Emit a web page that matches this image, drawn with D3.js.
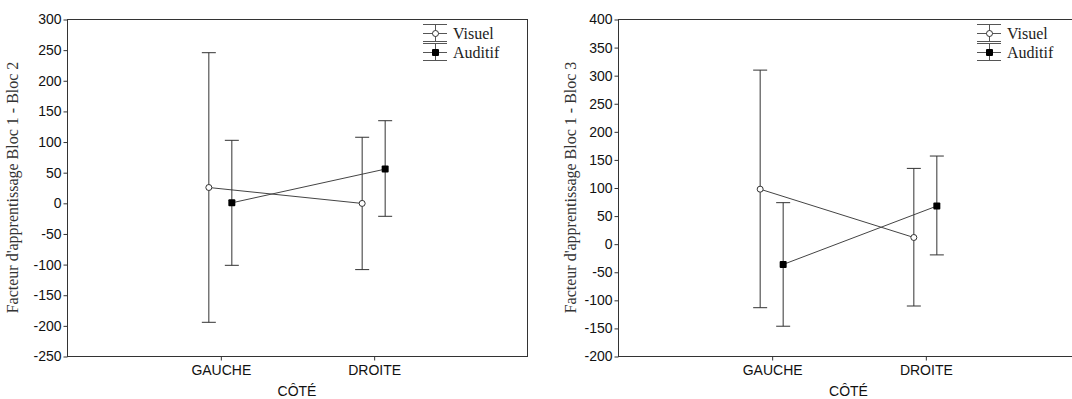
<!DOCTYPE html>
<html>
<head>
<meta charset="utf-8">
<script src="https://cdn.jsdelivr.net/npm/d3@7"></script>
<style>
  body { margin: 0; background: #fff; }
  svg { display: block; }
</style>
</head>
<body>
<svg width="1072" height="399"></svg>
<script>
// categories and series
const categories = ["GAUCHE", "DROITE"];
const seriesNames = ["Visuel", "Auditif"];

// Bloc 1 - Bloc 2
const bloc2Visuel = [25, -1];
const bloc2VisuelLow = [-195, -109];
const bloc2VisuelHigh = [245, 107];
const bloc2Auditif = [0, 55];
const bloc2AuditifLow = [-102, -22];
const bloc2AuditifHigh = [102, 134];
const bloc2Ticks = [-250, -200, -150, -100, -50, 0, 50, 100, 150, 200, 250, 300];

// Bloc 1 - Bloc 3
const bloc3Visuel = [97, 11];
const bloc3VisuelLow = [-114, -111];
const bloc3VisuelHigh = [309, 134];
const bloc3Auditif = [-37, 67];
const bloc3AuditifLow = [-147, -20];
const bloc3AuditifHigh = [73, 156];
const bloc3Ticks = [-200, -150, -100, -50, 0, 50, 100, 150, 200, 250, 300, 350, 400];

const svg = d3.select('svg');

function drawPanel(opts) {
    const g = svg.append('g').attr('transform', `translate(${opts.left},${opts.top})`);
    const w = opts.width, h = opts.height;

    const x = d3.scalePoint().domain(categories).range([0, w]).padding(1);
    const y = d3.scaleLinear().domain(d3.extent(opts.ticks)).range([h, 0]);

    // frame
    g.append('rect')
        .attr('x', 0.5).attr('y', 0.5)
        .attr('width', w).attr('height', h)
        .attr('fill', 'none').attr('stroke', '#333').attr('stroke-width', 1);

    // y axis (plain hyphen for negatives, like the original)
    const yAxis = g.append('g').attr('transform', 'translate(0.5,0.5)')
        .call(d3.axisLeft(y).tickValues(opts.ticks).tickFormat(d => String(d))
            .tickSize(4).tickPadding(2));
    yAxis.select('.domain').remove();
    yAxis.selectAll('line').attr('stroke', '#333');
    yAxis.selectAll('text')
        .attr('font-family', '"Liberation Sans", Arial, sans-serif')
        .attr('font-size', 14).attr('fill', '#111');

    // x axis
    const xAxis = g.append('g').attr('transform', `translate(0.5,${h + 0.5})`)
        .call(d3.axisBottom(x).tickSize(4).tickPadding(0));
    xAxis.select('.domain').remove();
    xAxis.selectAll('line').attr('stroke', '#333');
    xAxis.selectAll('text')
        .attr('font-family', '"Liberation Sans", Arial, sans-serif')
        .attr('font-size', 14).attr('fill', '#111')
        .attr('dy', null).attr('y', 18);

    // axis titles
    g.append('text')
        .attr('x', w / 2).attr('y', h + 40)
        .attr('text-anchor', 'middle')
        .attr('font-family', '"Liberation Sans", Arial, sans-serif')
        .attr('font-size', 14).attr('fill', '#111')
        .text('CÔTÉ');

    g.append('text')
        .attr('transform', `translate(${opts.titleX},${h / 2}) rotate(-90)`)
        .attr('text-anchor', 'middle')
        .attr('font-family', '"Liberation Serif", "Times New Roman", serif')
        .attr('font-size', 16).attr('fill', '#333')
        .text(opts.title);

    // series
    const offsets = [-11.5, 11.5];
    opts.series.forEach((s, si) => {
        const pts = categories.map((c, i) => ({
            x: x(c) + offsets[si], m: s.mean[i], lo: s.low[i], hi: s.high[i]
        }));

        g.append('path')
            .datum(pts)
            .attr('fill', 'none').attr('stroke', '#444').attr('stroke-width', 1)
            .attr('d', d3.line().x(d => d.x).y(d => y(d.m)));

        const bars = g.append('g').selectAll('g')
            .data(pts).enter().append('g').attr('stroke', '#333');
        bars.append('line')
            .attr('x1', d => d.x).attr('x2', d => d.x)
            .attr('y1', d => y(d.hi)).attr('y2', d => y(d.lo));
        bars.append('line')
            .attr('x1', d => d.x - 7).attr('x2', d => d.x + 7)
            .attr('y1', d => y(d.hi)).attr('y2', d => y(d.hi));
        bars.append('line')
            .attr('x1', d => d.x - 7).attr('x2', d => d.x + 7)
            .attr('y1', d => y(d.lo)).attr('y2', d => y(d.lo));

        drawMarkers(g, pts.map(d => [d.x, y(d.m)]), si);
    });

    // legend
    const lg = g.append('g').attr('transform', `translate(${w - opts.legendRight},0)`);
    seriesNames.forEach((name, si) => {
        const cy = 14.5 + si * 19;
        const item = lg.append('g').attr('stroke', '#555');
        [-9, 0, 8].forEach(dy => {
            item.append('line')
                .attr('x1', 0).attr('x2', 24)
                .attr('y1', cy + dy).attr('y2', cy + dy);
        });
        item.append('line')
            .attr('x1', 12.5).attr('x2', 12.5)
            .attr('y1', cy - 9).attr('y2', cy + 8);
        drawMarkers(lg, [[12.5, cy]], si);
        lg.append('text')
            .attr('x', 30).attr('y', cy + 5)
            .attr('font-family', '"Liberation Serif", "Times New Roman", serif')
            .attr('font-size', 16).attr('fill', '#222')
            .text(name);
    });
}

function drawMarkers(g, pts, si) {
    if (si === 0) {
        g.selectAll(null).data(pts).enter().append('circle')
            .attr('cx', d => d[0]).attr('cy', d => d[1]).attr('r', 3)
            .attr('fill', '#fff').attr('stroke', '#333').attr('stroke-width', 1);
    } else {
        g.selectAll(null).data(pts).enter().append('rect')
            .attr('x', d => d[0] - 3.5).attr('y', d => d[1] - 3.5)
            .attr('width', 7).attr('height', 7).attr('rx', 1)
            .attr('fill', '#000');
    }
}

drawPanel({
    left: 67, top: 19, width: 460, height: 337,
    ticks: bloc2Ticks,
    title: "Facteur d'apprentissage Bloc 1 - Bloc 2",
    titleX: -49,
    legendRight: 104,
    series: [
        { mean: bloc2Visuel, low: bloc2VisuelLow, high: bloc2VisuelHigh },
        { mean: bloc2Auditif, low: bloc2AuditifLow, high: bloc2AuditifHigh }
    ]
});

drawPanel({
    left: 618, top: 19, width: 461, height: 337,
    ticks: bloc3Ticks,
    title: "Facteur d'apprentissage Bloc 1 - Bloc 3",
    titleX: -42,
    legendRight: 102,
    series: [
        { mean: bloc3Visuel, low: bloc3VisuelLow, high: bloc3VisuelHigh },
        { mean: bloc3Auditif, low: bloc3AuditifLow, high: bloc3AuditifHigh }
    ]
});
</script>
</body>
</html>
